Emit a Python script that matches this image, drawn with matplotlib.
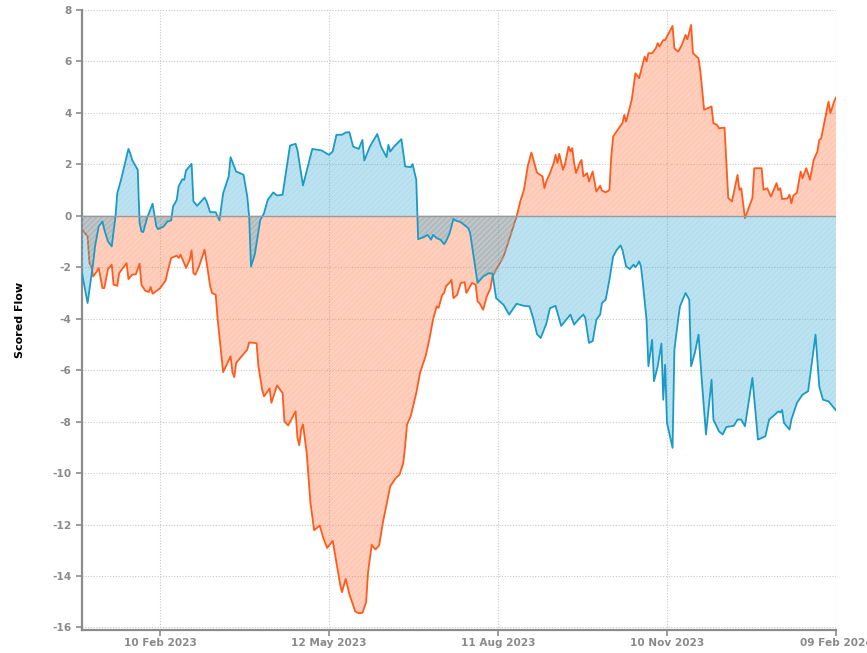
import numpy as np
import matplotlib
matplotlib.use("Agg")
import matplotlib.pyplot as plt

start_date = np.datetime64("2022-12-30")

blue_days = [0, 3, 6, 7, 9, 11, 12, 14, 16, 18, 19, 21, 25, 26, 27, 29, 30, 31, 32, 33, 35, 38, 40, 41, 44, 46, 48, 49,
             51, 52, 54, 55, 56, 59, 60, 62, 63, 66, 67, 69, 72, 74, 76, 79, 80, 83, 86, 87, 89, 90, 91, 93, 96, 98,
             100, 103, 105, 108, 112, 115, 116, 119, 124, 129, 133, 135, 137, 140, 142, 144, 146, 149, 151, 152, 155,
             159, 161, 164, 165, 166, 168, 172, 174, 177, 178, 180, 181, 184, 186, 188, 189, 191, 193, 195, 196, 198,
             200, 201, 204, 208, 209, 213, 216, 219, 221, 223, 227, 230, 234, 238, 241, 243, 245, 247, 250, 252, 255,
             258, 263, 265, 268, 270, 271, 273, 275, 277, 279, 280, 282, 284, 286, 288, 290, 291, 293, 295, 297, 298,
             299, 300, 301, 302, 304, 305, 307, 308, 310, 312, 313, 314, 315, 318, 319, 321, 322, 325, 327, 328, 330,
             332, 334, 336, 339, 340, 343, 345, 347, 351, 353, 355, 357, 361, 364, 368, 370, 372, 375, 376, 377, 378,
             381, 382, 385, 388, 391, 395, 397, 399, 402, 403, 406]
blue_vals = [-2.23, -3.39, -1.84, -1.19, -0.41, -0.22, -0.54, -1.0, -1.19, -0.03, 0.88, 1.40, 2.60, 2.43, 2.17, 1.92,
             1.79, -0.28, -0.61, -0.63, -0.09, 0.47, -0.41, -0.52, -0.41, -0.22, -0.18, 0.36,
             0.62, 1.14, 1.42, 1.40, 1.76, 2.02, 0.56, 0.39, 0.47, 0.71, 0.58, 0.14, 0.14, -0.18, 0.88, 1.53, 2.28,
             1.72, 1.63, 1.59, 0.75, -0.03, -1.97, -1.51, -0.16, 0.10,
             0.62, 0.91, 0.79, 0.82, 2.73, 2.80, 2.56, 1.18, 2.60, 2.54, 2.37, 2.50, 3.15, 3.15, 3.24, 3.25, 2.69,
             2.60, 2.95, 2.15, 2.69,
             3.18, 2.69, 2.28, 2.76, 2.50, 2.69, 2.98, 1.92, 1.89, 2.01, 1.40, -0.91, -0.83, -0.74, -0.93, -0.74,
             -0.87, -0.93, -1.10, -1.0, -0.67,
             -0.12, -0.18, -0.25, -0.48, -0.67, -2.61, -2.36, -2.23, -2.25, -3.20, -3.46, -3.84, -3.42, -3.50, -3.52,
             -4.0, -4.6, -4.75, -4.2, -3.59, -3.50,
             -4.28, -3.84, -4.23, -3.97, -3.84, -3.97, -4.94, -4.87, -4.04, -3.84, -3.39, -3.26, -2.49, -1.58, -1.32,
             -1.15, -1.32, -1.97, -2.07, -1.90, -2.0,
             -1.90, -1.77, -1.97, -2.61, -4.04, -5.85, -4.82, -6.43, -5.85, -4.97, -7.15, -5.79, -8.05, -9.02, -5.20,
             -4.04, -3.52, -3.0, -3.26, -5.85, -5.33,
             -4.62, -6.63, -8.50, -6.37, -7.92, -8.38, -8.50, -8.21, -8.16, -7.92, -7.92, -8.18, -6.30, -8.70, -8.57,
             -7.92, -7.8, -7.60, -7.65, -7.55, -8.05,
             -8.31, -7.92, -7.27, -6.95, -6.82, -4.62, -6.63, -7.15, -7.21, -7.30, -7.56]

orange_days = [0, 3, 4, 5, 6, 8, 9, 11, 12, 14, 16, 17, 19, 20, 22, 24, 25, 27, 29, 31, 32, 34, 36, 37, 38, 42, 45,
               46, 48, 51, 52, 53, 55, 56, 58, 59, 60, 61, 63, 66, 67, 69, 70, 72, 73, 76, 80, 81, 82, 83, 89, 90, 94,
               95, 97, 98, 101, 102, 105, 108, 109, 111, 115, 116, 117, 118, 119, 121, 123, 125, 128, 130, 132, 135,
               137, 139, 140, 142, 144, 146, 147, 149, 151, 153, 154, 156, 158, 160, 162, 166, 169, 171, 173, 174, 175,
               177, 180, 182, 185, 187, 189, 191, 192, 193, 194, 195, 196, 198, 199, 200, 202, 204, 206, 207, 210, 212,
               213, 214, 216, 218, 220, 221, 223, 227, 230, 234, 236, 238, 240, 242, 245, 248, 249, 250, 252, 254, 255,
               256, 257, 259, 260, 262, 263, 264, 265, 266, 268, 269, 270, 272, 273, 275, 277, 279, 280, 282, 284, 285,
               286, 289, 291, 292, 293, 296, 298, 300, 303, 304, 305, 307, 309, 310, 311, 313, 314, 318, 319, 321, 323,
               325, 326, 328, 329, 332, 333, 335, 336, 339, 340, 342, 343, 346, 348, 350, 353, 354, 355, 357, 361, 362,
               366, 367, 369, 371, 374, 375, 376, 377, 380, 381, 382, 383, 385, 387, 388, 390, 392, 394, 396, 397, 398,
               400, 402, 403, 405, 406]
orange_vals = [-0.54, -0.80, -1.84, -1.97, -2.36, -2.16, -2.03, -2.81, -2.81, -2.07, -1.90, -2.68, -2.72, -2.23, -2.03,
               -1.84, -2.46, -2.29, -2.27, -1.86, -2.68, -2.91, -2.96, -2.77, -3.03, -2.82, -2.52,
               -2.20, -1.64, -1.55, -1.64, -1.51, -1.84, -2.03, -1.71, -1.35, -2.23, -2.29, -1.97, -1.32, -1.77, -2.74,
               -3.0, -3.07, -4.0, -6.08, -5.46, -6.08, -6.27, -5.72, -5.20, -4.92, -4.95,
               -5.85, -6.76, -7.02, -6.71, -7.27, -6.59, -6.89, -7.99, -8.15, -7.60, -8.63, -8.92, -8.31, -8.11, -9.22,
               -11.16, -12.22, -12.04, -12.54, -12.91, -12.63,
               -13.49, -14.33, -14.63, -14.11, -14.72, -15.13, -15.37, -15.45, -15.43, -15.02, -13.88, -12.79, -12.97,
               -12.81, -11.93, -10.51, -10.19, -10.06, -9.61, -8.96, -8.12,
               -7.79, -6.89, -6.11, -5.46, -4.82, -4.04, -3.52, -3.58, -3.33, -3.07, -3.0, -2.74, -2.59, -2.49, -3.20,
               -3.07, -2.61, -2.58, -3.0, -2.61, -2.68,
               -3.33, -3.39, -3.65, -3.13, -2.81, -2.36, -2.10, -1.58, -0.93, -0.03, 0.56, 1.01, 1.92, 2.46, 1.68, 1.53,
               1.07, 1.33, 1.66, 2.05, 2.37,
               2.05, 2.41, 1.79, 1.98, 2.69, 2.50, 2.63, 2.05, 1.66, 2.05, 2.17, 1.53, 1.66, 1.33, 1.72, 0.94, 1.17,
               0.98, 0.91, 1.0, 2.30,
               3.08, 3.40, 3.60, 3.92, 3.66, 4.50, 5.54, 5.35, 6.19, 6.0, 6.32, 6.32, 6.51, 6.71, 6.58, 6.83, 6.83,
               7.38, 6.51, 6.38, 6.64,
               7.03, 6.86, 7.42, 6.32, 6.12, 5.61, 4.12, 4.15, 4.25, 3.60, 3.53, 3.40, 3.43, 0.69, 0.56, 1.59, 1.01,
               1.07, -0.09, 0.69, 1.85,
               1.85, 1.01, 1.07, 0.75, 1.27, 1.0, 1.07, 0.65, 0.68, 0.82, 0.49, 0.78, 0.91, 1.72, 1.46, 1.85, 1.40,
               2.17, 2.50, 2.95, 3.0,
               3.73, 4.44, 3.99, 4.44, 4.60]

tick_dates = ["2023-02-10", "2023-05-12", "2023-08-11", "2023-11-10", "2024-02-09"]
tick_labels = ["10 Feb 2023", "12 May 2023", "11 Aug 2023", "10 Nov 2023", "09 Feb 2024"]
y_ticks = list(range(-16, 9, 2))

plt.rcParams["hatch.linewidth"] = 0.6


def to_dt(arr):
    return np.asarray(arr).astype("datetime64[ms]").astype(object)


bx = to_dt(start_date + np.array(blue_days).astype("timedelta64[D]"))
ox = to_dt(start_date + np.array(orange_days).astype("timedelta64[D]"))
by = np.array(blue_vals)
oy = np.array(orange_vals)

fig = plt.figure(figsize=(8.67, 6.53), dpi=100)
ax = fig.add_axes([0.0946, 0.0352, 0.8696, 0.9495])

orange_line = "#ff5b1c"
blue_line = "#1a9bc6"

ax.fill_between(ox, oy, 0, facecolor=(1.0, 0.42, 0.20, 0.36), edgecolor=(1.0, 0.97, 0.95, 0.35),
                hatch="//////", linewidth=0, zorder=2)
ax.plot(ox, oy, color=orange_line, lw=1.3, zorder=3)
ax.fill_between(bx, by, 0, facecolor=(0.10, 0.62, 0.80, 0.32), edgecolor=(0.95, 0.98, 1.0, 0.30),
                hatch="//////", linewidth=0, zorder=4)
ax.plot(bx, by, color=blue_line, lw=1.3, zorder=5)
ax.axhline(0, color="#9a9a9a", lw=1.0, zorder=6)

ax.set_ylim(-16.1, 8)
ax.set_xlim(to_dt(start_date), to_dt(start_date + np.timedelta64(406, "D")))
ax.set_yticks(y_ticks)
ax.set_yticklabels([str(v) for v in y_ticks])
ax.set_xticks([to_dt(np.datetime64(d)) for d in tick_dates])
ax.set_xticklabels(tick_labels)

ax.grid(True, color="#c8c8c8", linestyle=(0, (1, 1.5)), lw=0.8, zorder=0)
ax.set_axisbelow(True)
for s in ["top", "right"]:
    ax.spines[s].set_visible(False)
for s in ["left", "bottom"]:
    ax.spines[s].set_color("#8c8c8c")
    ax.spines[s].set_linewidth(1.6)
ax.tick_params(axis="both", colors="#8c8c8c", length=4, width=1.2, labelsize=7.6)
ax.tick_params(axis="x", pad=2)
for lab in ax.get_xticklabels() + ax.get_yticklabels():
    lab.set_fontweight("bold")
    lab.set_color("#8a8a8a")
ax.set_ylabel("Scored Flow", fontsize=8, fontweight="bold", color="black", labelpad=20)

fig.savefig("out.png", dpi=100)
